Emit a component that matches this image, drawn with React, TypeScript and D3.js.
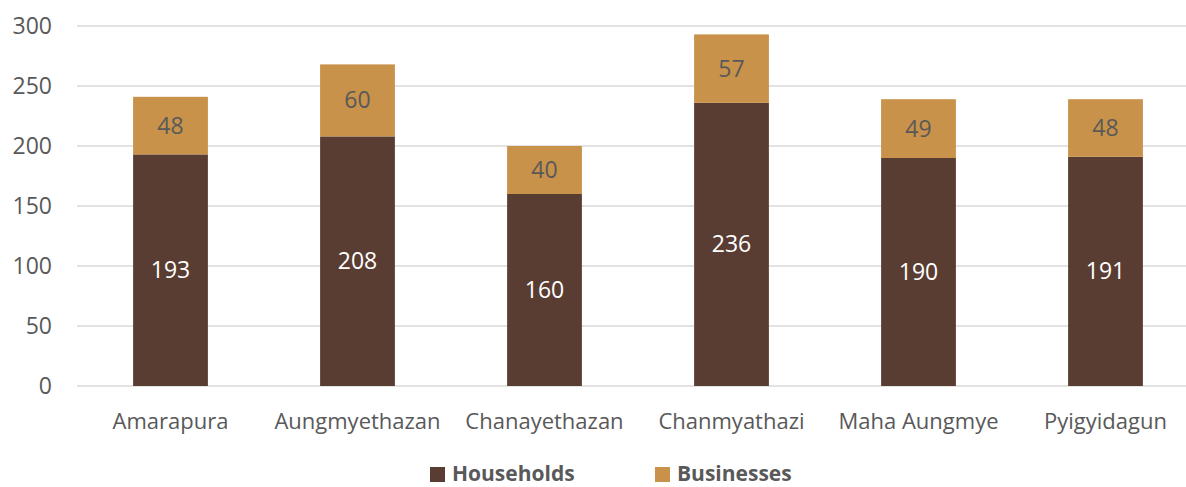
import * as d3 from 'd3';
import { useEffect } from 'react';

const categories = ['Amarapura', 'Aungmyethazan', 'Chanayethazan', 'Chanmyathazi', 'Maha Aungmye', 'Pyigyidagun'];
const households = [193, 208, 160, 236, 190, 191];
const businesses = [48, 60, 40, 57, 49, 48];
const yTicks = [0, 50, 100, 150, 200, 250, 300];

const WIDTH = 1186;
const HEIGHT = 487;
const FONT = 'Open Sans, Noto Sans, sans-serif';
const GREY = '#595959';
const BROWN = '#5a3d32';
const TAN = '#c8924a';
const FS = 23;

function App() {
  useEffect(() => {
    document.body.style.margin = '0';
  }, []);

  const x = d3.scaleBand<string>().domain(categories).range([77, 1199]).paddingInner(0.6).paddingOuter(0.3);
  const y = d3.scaleLinear().domain([0, 300]).range([386, 26]);

  return (
    <svg width={WIDTH} height={HEIGHT} style={{ display: 'block', background: '#fff' }} fontFamily={FONT}>
      {yTicks.map(t => (
        <g key={t}>
          <line x1={77} x2={WIDTH} y1={y(t)} y2={y(t)} stroke="#d9d9d9" strokeWidth={1.3} />
          <text x={52} y={y(t)} dy="0.35em" textAnchor="end" fontSize={FS} fill={GREY}>
            {t}
          </text>
        </g>
      ))}
      {categories.map((c, i) => {
        const x0 = x(c)!;
        const bw = x.bandwidth();
        const h = households[i];
        const b = businesses[i];
        return (
          <g key={c}>
            <rect x={x0} width={bw} y={y(h)} height={y(0) - y(h)} fill={BROWN} />
            <rect x={x0} width={bw} y={y(h + b)} height={y(h) - y(h + b)} fill={TAN} />
            <text x={x0 + bw / 2} y={(y(0) + y(h)) / 2} dy="0.35em" textAnchor="middle" fontSize={FS} fill="#fff">
              {h}
            </text>
            <text x={x0 + bw / 2} y={(y(h) + y(h + b)) / 2} dy="0.35em" textAnchor="middle" fontSize={FS} fill={GREY}>
              {b}
            </text>
            <text x={x0 + bw / 2} y={421} dy="0.35em" textAnchor="middle" fontSize={22} fill={GREY}>
              {c}
            </text>
          </g>
        );
      })}
      <g>
        <rect x={430} y={467} width={15} height={15} fill={BROWN} />
        <text x={452} y={481} fontSize={21} fontWeight="bold" fill={GREY}>
          Households
        </text>
        <rect x={655} y={467} width={15} height={15} fill={TAN} />
        <text x={677} y={481} fontSize={21} fontWeight="bold" fill={GREY}>
          Businesses
        </text>
      </g>
    </svg>
  );
}

export default App;
